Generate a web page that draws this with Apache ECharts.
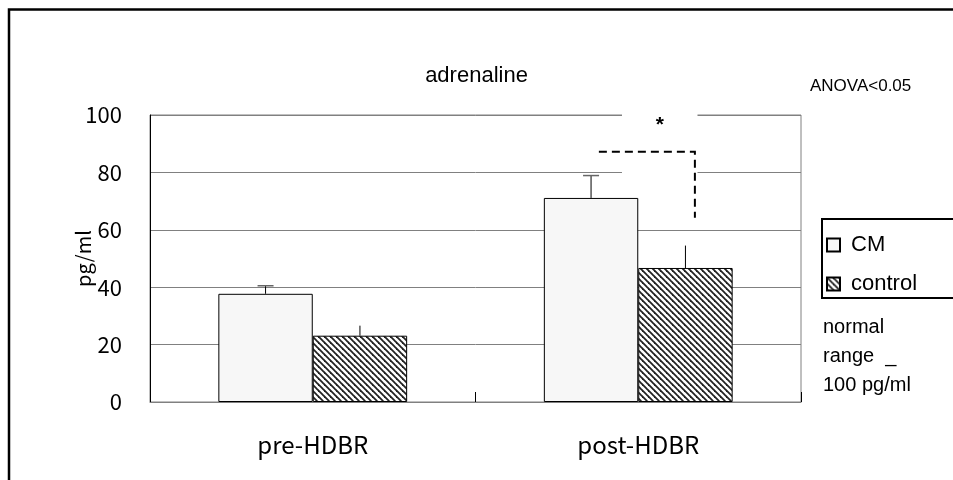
<!DOCTYPE html>
<html>
<head>
<meta charset="utf-8">
<script src="https://cdn.jsdelivr.net/npm/echarts@6/dist/echarts.min.js"></script>
<style>
html, body { margin: 0; padding: 0; background: #fff; }
#main { width: 953px; height: 480px; }
</style>
</head>
<body>
<div id="main"></div>
<script type="text/javascript">
// data
var categories = ['pre-HDBR', 'post-HDBR'];
var cmMean = [37.7, 71.1];
var cmSd = [2.8, 7.8];
var controlMean = [23.1, 46.7];
var controlSd = [3.5, 7.8];
var yTicks = [0, 20, 40, 60, 80, 100];
// significance bracket on post-HDBR: [category, top value, lower end value]
var sigBracket = [1, 87.2, 64.2];

var chart = echarts.init(document.getElementById('main'));

// diagonal hatch for the control bars
function makeHatch() {
	var c = document.createElement('canvas');
	var s = 6;
	c.width = s; c.height = s;
	var ctx = c.getContext('2d');
	ctx.fillStyle = '#fff';
	ctx.fillRect(0, 0, s, s);
	ctx.strokeStyle = '#222';
	ctx.lineWidth = 1.8;
	for (var k = -1; k <= 1; k++) {
		ctx.beginPath();
		ctx.moveTo(k * s - 1, -1);
		ctx.lineTo(k * s + s + 1, s + 1);
		ctx.stroke();
	}
	return { image: c, repeat: 'repeat' };
}
var hatch = makeHatch();

var baseFont = '"Liberation Sans", Arial, sans-serif';
var jpFont = '"Noto Sans CJK JP", sans-serif';

// error bars (upper half only)
function renderErr(params, api) {
	var idx = api.value(0);
	var band = api.size([1, 0])[0];
	var half = band * 0.29 / 2;
	var center = api.coord([idx, 0])[0];
	var children = [];
	// CM
	var p0 = api.coord([idx, cmMean[idx]]);
	var p1 = api.coord([idx, cmMean[idx] + cmSd[idx]]);
	var xc = center - half;
	children.push({ type: 'line', shape: { x1: xc, y1: p0[1], x2: xc, y2: p1[1] }, style: { stroke: '#000', lineWidth: 1 } });
	children.push({ type: 'line', shape: { x1: xc - 8, y1: p1[1], x2: xc + 8, y2: p1[1] }, style: { stroke: '#666', lineWidth: 1.5 } });
	// control
	var q0 = api.coord([idx, controlMean[idx]]);
	var q1 = api.coord([idx, controlMean[idx] + controlSd[idx]]);
	var xd = center + half;
	children.push({ type: 'line', shape: { x1: xd, y1: q0[1], x2: xd, y2: q1[1] }, style: { stroke: '#000', lineWidth: 1 } });
	return { type: 'group', children: children };
}

// significance bracket with its white text box
function renderSig(params, api) {
	var idx = api.value(0);
	var band = api.size([1, 0])[0];
	var center = api.coord([idx, 0])[0];
	var top = api.coord([idx, api.value(1)])[1];
	var low = api.coord([idx, api.value(2)])[1];
	var boxTop = api.coord([idx, 101.5])[1];
	var boxBot = api.coord([idx, 78])[1];
	var x1 = center - band * 0.121;
	var x2 = center + band * 0.174;
	return {
		type: 'group',
		children: [
			{ type: 'rect', shape: { x: center - band * 0.05, y: boxTop, width: band * 0.232, height: boxBot - boxTop }, style: { fill: '#fff' } },
			{ type: 'polyline', shape: { points: [[x1, top], [x2, top], [x2, low]] }, style: { stroke: '#000', lineWidth: 2, lineDash: [8, 5], fill: null } },
			{ type: 'text', x: center + band * 0.066, y: api.coord([idx, 96.3])[1], style: { text: '*', font: 'bold 21px ' + baseFont, fill: '#000', align: 'center', verticalAlign: 'middle' } }
		]
	};
}

var option = {
	backgroundColor: '#fff',
	animation: false,
	title: {
		text: 'adrenaline',
		left: 'center',
		top: 60,
		textStyle: { fontSize: 22, fontWeight: 'normal', color: '#000', fontFamily: baseFont }
	},
	legend: {
		orient: 'vertical',
		left: 822,
		top: 219,
		icon: 'rect',
		itemWidth: 13,
		itemHeight: 13,
		itemGap: 17,
		padding: [15, 40, 3, 4],
		borderColor: '#000',
		borderWidth: 2,
		data: ['CM', 'control'],
		textStyle: { fontSize: 22, color: '#000', fontFamily: baseFont, padding: [0, 0, 0, 6] }
	},
	grid: {
		left: 150,
		top: 115,
		width: 651,
		height: 287,
		show: true,
		borderColor: '#808080',
		borderWidth: 1
	},
	xAxis: {
		type: 'category',
		data: categories,
		axisLine: { lineStyle: { color: '#808080', width: 1 } },
		axisTick: { show: true, inside: true, length: 10, lineStyle: { color: '#000' } },
		axisLabel: { fontSize: 24, color: '#000', fontFamily: jpFont, margin: 31 }
	},
	yAxis: {
		type: 'value',
		min: yTicks[0],
		max: yTicks[yTicks.length - 1],
		interval: 20,
		name: 'pg/ml',
		nameLocation: 'middle',
		nameRotate: 90,
		nameGap: 57,
		nameMoveOverlap: false,
		nameTextStyle: { fontSize: 20, color: '#000', fontFamily: jpFont },
		axisLine: { show: true, lineStyle: { color: '#000', width: 1 } },
		axisTick: { show: false },
		axisLabel: { fontSize: 22, color: '#000', fontFamily: jpFont, margin: 28 },
		splitLine: { lineStyle: { color: '#808080', width: 1 } }
	},
	graphic: [
		{ type: 'rect', z: -10, shape: { x: 9, y: 9.5, width: 980, height: 500 }, style: { fill: null, stroke: '#000', lineWidth: 2.5 } },
		{ type: 'text', left: 810, top: 78, style: { text: 'ANOVA<0.05', font: '17px ' + baseFont, fill: '#000' } },
		{ type: 'text', left: 823, top: 313, style: { text: 'normal\nrange  _\n100 pg/ml', font: '20px ' + baseFont, fill: '#000', lineHeight: 29 } }
	],
	series: [
		{
			name: 'CM',
			type: 'bar',
			data: cmMean,
			barWidth: '29%',
			barGap: '0%',
			itemStyle: { color: '#f7f7f7', borderColor: '#000', borderWidth: 1 }
		},
		{
			name: 'control',
			type: 'bar',
			data: controlMean,
			barWidth: '29%',
			barGap: '0%',
			itemStyle: { color: hatch, borderColor: '#000', borderWidth: 1 }
		},
		{
			name: 'err',
			type: 'custom',
			renderItem: renderErr,
			data: [[0], [1]],
			z: 3
		},
		{
			name: 'sig',
			type: 'custom',
			renderItem: renderSig,
			data: [sigBracket],
			clip: false,
			z: 3
		}
	]
};
chart.setOption(option);
</script>
</body>
</html>
